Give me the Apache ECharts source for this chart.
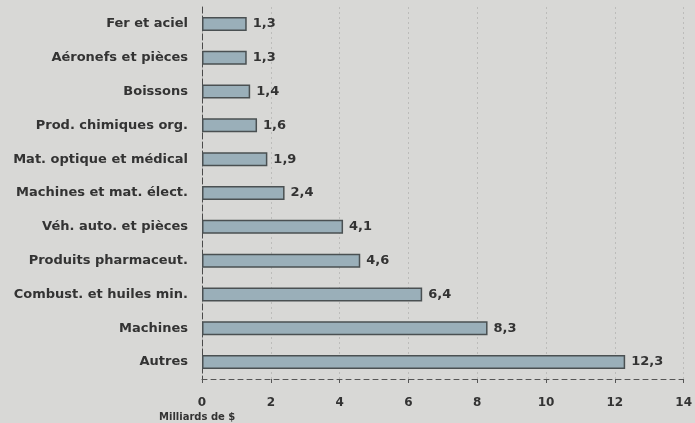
<!DOCTYPE html>
<html>
<head>
<meta charset="utf-8">
<script src="https://cdn.jsdelivr.net/npm/echarts@6/dist/echarts.min.js"></script>
<style>
  html, body { margin: 0; padding: 0; background: #d8d8d6; }
  #chart { width: 695px; height: 423px; }
</style>
</head>
<body>
<div id="chart"></div>
<script>
// catégories, du haut vers le bas
const categories = [
  'Fer et aciel', 'Aéronefs et pièces', 'Boissons', 'Prod. chimiques org.',
  'Mat. optique et médical', 'Machines et mat. élect.', 'Véh. auto. et pièces',
  'Produits pharmaceut.', 'Combust. et huiles min.', 'Machines', 'Autres'
]
const values = [1.3, 1.3, 1.4, 1.6, 1.9, 2.4, 4.1, 4.6, 6.4, 8.3, 12.3]
const axisTitle = 'Milliards de $'

const textColor = '#333'
const font = 'DejaVu Sans, Arial, sans-serif'

const chart = echarts.init(document.getElementById('chart'))

chart.setOption({
  backgroundColor: '#d8d8d6',
  animation: false,
  grid: { top: 7, bottom: 44, left: 202, right: 8 },
  graphic: [{
    type: 'text',
    left: 159, top: 412,
    style: { text: axisTitle, fill: textColor, font: 'bold 10px ' + font }
  }],
  xAxis: {
    type: 'value',
    min: 0, max: 14, interval: 2,
    axisLine: { show: true, lineStyle: { color: '#555', type: [5, 4], width: 1 } },
    axisTick: { show: true, length: 4, lineStyle: { color: '#555' } },
    axisLabel: { color: textColor, fontWeight: 'bold', fontSize: 12, fontFamily: font, margin: 18 },
    splitLine: { show: true, lineStyle: { color: '#bcbcba', type: [2, 3], width: 1 } }
  },
  yAxis: {
    type: 'category',
    data: categories,
    inverse: true,
    axisLine: { show: true, lineStyle: { color: '#4a4a4a', type: [6, 3], width: 1 } },
    axisTick: { show: false },
    axisLabel: { color: textColor, fontWeight: 'bold', fontSize: 13, fontFamily: font, margin: 14 }
  },
  series: [{
    type: 'bar',
    data: values,
    barWidth: 14,
    itemStyle: { color: '#9aafb9', borderColor: '#4a5052', borderWidth: 1.5 },
    label: {
      show: true,
      position: 'right',
      distance: 6,
      color: textColor,
      fontWeight: 'bold',
      fontSize: 13,
      fontFamily: font,
      formatter: p => String(p.value).replace('.', ',')
    }
  }]
})
</script>
</body>
</html>
